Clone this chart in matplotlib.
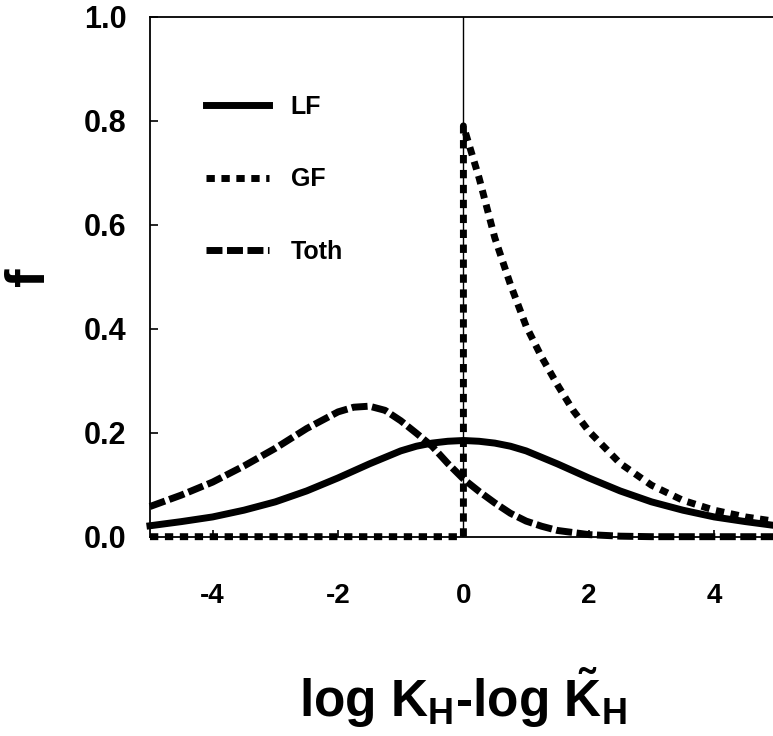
import matplotlib
matplotlib.use('Agg')
import matplotlib.pyplot as plt

plt.rcParams['font.family'] = ['Liberation Sans', 'DejaVu Sans']
plt.rcParams['axes.unicode_minus'] = False
plt.rcParams['mathtext.fontset'] = 'custom'
plt.rcParams['mathtext.rm'] = 'Liberation Sans:bold'
plt.rcParams['mathtext.it'] = 'Liberation Sans:bold'
plt.rcParams['mathtext.bf'] = 'Liberation Sans:bold'

# distribution functions f vs log K_H - log K~_H
lf_x = [-5, -4.5, -4, -3.5, -3, -2.5, -2, -1.5, -1, -0.75, -0.5, -0.25, 0,
        0.25, 0.5, 0.75, 1, 1.5, 2, 2.5, 3, 3.5, 4, 4.5, 5]
lf_y = [0.021, 0.029, 0.038, 0.051, 0.067, 0.088, 0.113, 0.140, 0.165, 0.174, 0.180, 0.1835, 0.185,
        0.1835, 0.180, 0.174, 0.165, 0.140, 0.113, 0.088, 0.067, 0.051, 0.038, 0.029, 0.021]

gf_x = [-5, 0, 0, 0.25, 0.5, 0.75, 1, 1.25, 1.5, 1.75, 2, 2.5, 3, 3.5, 4, 4.5, 5]
gf_y = [0, 0, 0.79, 0.69, 0.575, 0.485, 0.405, 0.345, 0.292, 0.243, 0.203, 0.141, 0.099,
        0.070, 0.051, 0.038, 0.029]

toth_x = [-5, -4.5, -4, -3.5, -3, -2.5, -2, -1.75, -1.5, -1.25, -1, -0.75, -0.5, -0.25, 0,
          0.25, 0.5, 0.75, 1, 1.25, 1.5, 2, 2.5, 3, 4, 5]
toth_y = [0.058, 0.080, 0.105, 0.136, 0.170, 0.208, 0.240, 0.249, 0.251, 0.243, 0.223, 0.199,
          0.174, 0.141, 0.111, 0.087, 0.065, 0.045, 0.030, 0.020, 0.012, 0.004, 0.001, 0, 0, 0]

xticks = [-4, -2, 0, 2, 4]
yticks = [0.0, 0.2, 0.4, 0.6, 0.8, 1.0]

fig = plt.figure(figsize=(7.73, 7.36), dpi=100)
ax = fig.add_axes([0.194, 0.2708, 0.811, 0.7065])

lw = 5.0
ax.plot(lf_x, lf_y, color='black', lw=lw, ls='-', label='LF', clip_on=False)
ax.plot(gf_x, gf_y, color='black', lw=lw, ls=(0, (1.2, 0.95)), label='GF', clip_on=False)
ax.plot(toth_x, toth_y, color='black', lw=lw, ls=(0, (2.3, 0.65)), label='Toth', clip_on=False)

ax.axvline(0, color='black', lw=1.0, zorder=1)

ax.set_xlim(-5, 5)
ax.set_ylim(0, 1.0)
ax.set_xticks(xticks)
ax.set_yticks(yticks)
ax.set_yticklabels(['%.1f' % v for v in yticks])
ax.tick_params(axis='y', direction='in', length=6, width=1.2, labelsize=22, pad=17)
ax.tick_params(axis='x', direction='in', length=5, width=1.2, labelsize=20, pad=33)
for lab in ax.get_xticklabels() + ax.get_yticklabels():
    lab.set_fontweight('bold')
for s in ax.spines.values():
    s.set_linewidth(1.3)

ax.set_xlabel(r'log K$_\mathregular{H}$-log $\tilde{\mathregular{K}}_\mathregular{H}$',
              fontsize=37, fontweight='bold', labelpad=41)
ax.set_ylabel('f', fontsize=40, fontweight='bold', labelpad=20)

leg = ax.legend(loc='upper left', bbox_to_anchor=(0.09, 0.85), frameon=False, fontsize=18,
                handlelength=2.5, handletextpad=0.87, labelspacing=1.95,
                borderpad=0, borderaxespad=0)
for t in leg.get_texts():
    t.set_fontweight('bold')

plt.savefig('out.png', dpi=100)
